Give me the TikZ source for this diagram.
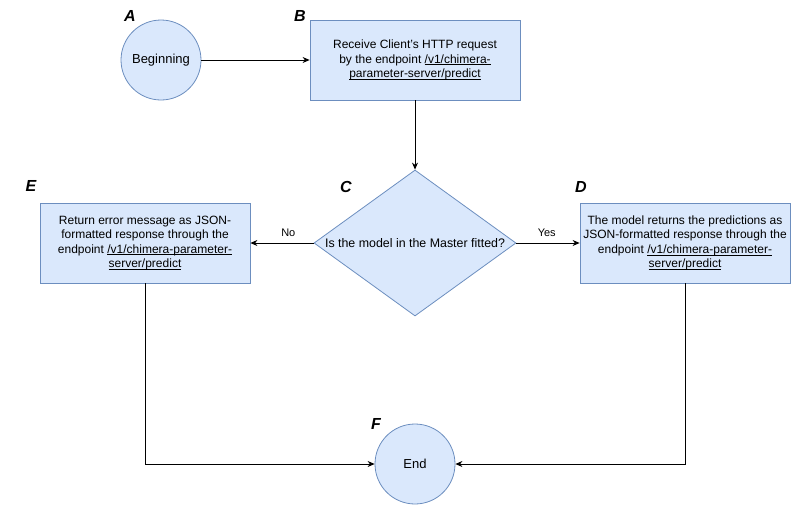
\documentclass[tikz,border=0pt]{standalone}
\usepackage{fontspec}
\setmainfont{Liberation Sans}
\usetikzlibrary{arrows.meta,shapes.geometric}
% underlined link text: a thin rule just below the baseline
\newcommand{\linktext}[1]{\leavevmode\setbox0\hbox{#1}\rlap{\vrule height -1.3pt depth 1.9pt width \wd0}\box0}
\definecolor{nodefill}{HTML}{DAE8FC}
\definecolor{nodeline}{HTML}{6C8EBF}
\tikzset{
  base/.style={draw=nodeline, fill=nodefill, line width=0.8pt, align=center,
    font=\fontsize{12}{14.5}\selectfont, inner sep=0pt},
  roundnode/.style={base, circle, minimum size=80pt, font=\fontsize{13}{15}\selectfont},
  stepbox/.style={base, rectangle, minimum width=210pt, minimum height=80pt},
  decision/.style={base, diamond, minimum width=202pt, minimum height=146pt},
  centertext/.style={font=\fontsize{12.4}{15}\selectfont, inner sep=0pt},
  tag/.style={font=\fontsize{16}{16}\selectfont\bfseries\itshape},
  edgelabel/.style={font=\fontsize{11}{13}\selectfont},
  flow/.style={draw=black, line width=0.8pt, -{Stealth[length=7pt,width=6pt]}}
}
\begin{document}
\begin{tikzpicture}[x=1pt,y=-1pt]
  \useasboundingbox (0,0) rectangle (791,506);
  % process steps
  \node[roundnode] (A) at (161,60) {Beginning};
  \node[stepbox] (B) at (415,60) {Receive Client's HTTP request\\by the endpoint \linktext{/v1/chimera-}\\\linktext{parameter-server/predict}};
  \node[decision, label={[centertext]center:Is the model in the Master fitted?}] (C) at (415,243) {};
  \node[stepbox] (E) at (145,243) {Return error message as JSON-\\formatted response through the\\endpoint \linktext{/v1/chimera-parameter-}\\\linktext{server/predict}};
  \node[stepbox] (D) at (685,243) {The model returns the predictions as\\JSON-formatted response through the\\endpoint \linktext{/v1/chimera-parameter-}\\\linktext{server/predict}};
  \node[roundnode] (F) at (415,464) {End};
  % step letters
  \node[tag] (tA) at (130,16) {A};
  \node[tag] (tB) at (300,16) {B};
  \node[tag] (tC) at (346,187) {C};
  \node[tag] (tD) at (581,187) {D};
  \node[tag] (tE) at (31,186) {E};
  \node[tag] (tF) at (376,424) {F};
  % connectors
  \draw[flow] (A) -- (B);
  \draw[flow] (B) -- (C);
  \draw[flow] (C) -- node[edgelabel, above=3pt, pos=0.4] (no) {No} (E);
  \draw[flow] (C) -- node[edgelabel, above=3pt, pos=0.48] (yes) {Yes} (D);
  \draw[flow] (E.south) |- (F.west);
  \draw[flow] (D.south) |- (F.east);
\end{tikzpicture}
\end{document}
